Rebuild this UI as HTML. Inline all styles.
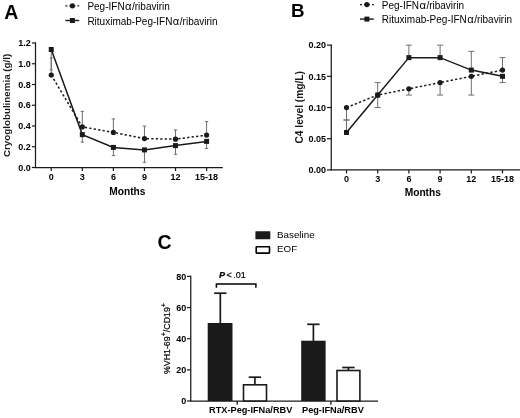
<!DOCTYPE html>
<html lang="en">
<head>
<meta charset="utf-8">
<title>Figure</title>
<style>
html,body{margin:0;padding:0;background:#fff;}
body{width:520px;height:418px;overflow:hidden;}
svg{display:block;will-change:transform;filter:blur(0.35px);font-family:'Liberation Sans', sans-serif;}
</style>
</head>
<body>
<svg width="520" height="418" viewBox="0 0 520 418">
<rect width="520" height="418" fill="#ffffff"/>
<line x1="35.50" y1="42.40" x2="35.50" y2="168.10" stroke="#1a1a1a" stroke-width="1.25" />
<line x1="34.90" y1="167.50" x2="222.80" y2="167.50" stroke="#1a1a1a" stroke-width="1.25" />
<line x1="31.90" y1="167.50" x2="35.50" y2="167.50" stroke="#1a1a1a" stroke-width="1.2" />
<text x="30.80" y="170.70" font-size="9" font-weight="bold" text-anchor="end" fill="#000" >0.0</text>
<line x1="31.90" y1="146.75" x2="35.50" y2="146.75" stroke="#1a1a1a" stroke-width="1.2" />
<text x="30.80" y="149.95" font-size="9" font-weight="bold" text-anchor="end" fill="#000" >0.2</text>
<line x1="31.90" y1="126.00" x2="35.50" y2="126.00" stroke="#1a1a1a" stroke-width="1.2" />
<text x="30.80" y="129.20" font-size="9" font-weight="bold" text-anchor="end" fill="#000" >0.4</text>
<line x1="31.90" y1="105.25" x2="35.50" y2="105.25" stroke="#1a1a1a" stroke-width="1.2" />
<text x="30.80" y="108.45" font-size="9" font-weight="bold" text-anchor="end" fill="#000" >0.6</text>
<line x1="31.90" y1="84.50" x2="35.50" y2="84.50" stroke="#1a1a1a" stroke-width="1.2" />
<text x="30.80" y="87.70" font-size="9" font-weight="bold" text-anchor="end" fill="#000" >0.8</text>
<line x1="31.90" y1="63.75" x2="35.50" y2="63.75" stroke="#1a1a1a" stroke-width="1.2" />
<text x="30.80" y="66.95" font-size="9" font-weight="bold" text-anchor="end" fill="#000" >1.0</text>
<line x1="31.90" y1="43.00" x2="35.50" y2="43.00" stroke="#1a1a1a" stroke-width="1.2" />
<text x="30.80" y="46.20" font-size="9" font-weight="bold" text-anchor="end" fill="#000" >1.2</text>
<line x1="51.25" y1="167.50" x2="51.25" y2="171.10" stroke="#1a1a1a" stroke-width="1.2" />
<text x="51.25" y="179.80" font-size="9" font-weight="bold" text-anchor="middle" fill="#000" >0</text>
<line x1="82.32" y1="167.50" x2="82.32" y2="171.10" stroke="#1a1a1a" stroke-width="1.2" />
<text x="82.32" y="179.80" font-size="9" font-weight="bold" text-anchor="middle" fill="#000" >3</text>
<line x1="113.39" y1="167.50" x2="113.39" y2="171.10" stroke="#1a1a1a" stroke-width="1.2" />
<text x="113.39" y="179.80" font-size="9" font-weight="bold" text-anchor="middle" fill="#000" >6</text>
<line x1="144.46" y1="167.50" x2="144.46" y2="171.10" stroke="#1a1a1a" stroke-width="1.2" />
<text x="144.46" y="179.80" font-size="9" font-weight="bold" text-anchor="middle" fill="#000" >9</text>
<line x1="175.53" y1="167.50" x2="175.53" y2="171.10" stroke="#1a1a1a" stroke-width="1.2" />
<text x="175.53" y="179.80" font-size="9" font-weight="bold" text-anchor="middle" fill="#000" >12</text>
<line x1="206.60" y1="167.50" x2="206.60" y2="171.10" stroke="#1a1a1a" stroke-width="1.2" />
<text x="206.60" y="179.80" font-size="9" font-weight="bold" text-anchor="middle" fill="#000" >15-18</text>
<text x="127.40" y="195.00" font-size="10.2" font-weight="bold" text-anchor="middle" fill="#000" >Months</text>
<text transform="translate(9.8,105.4) rotate(-90)" font-size="9.8" font-weight="bold" text-anchor="middle" fill="#1a1a1a">Cryoglobulinemia (g/l)</text>
<text x="4.20" y="19.40" font-size="19.5" font-weight="bold" text-anchor="start" fill="#000" >A</text>
<line x1="51.25" y1="75.00" x2="51.25" y2="57.90" stroke="#6e6e6e" stroke-width="1.0" />
<line x1="49.75" y1="57.90" x2="52.75" y2="57.90" stroke="#6e6e6e" stroke-width="1.0" />
<line x1="51.25" y1="49.50" x2="51.25" y2="69.90" stroke="#6e6e6e" stroke-width="1.0" />
<line x1="49.75" y1="69.90" x2="52.75" y2="69.90" stroke="#6e6e6e" stroke-width="1.0" />
<line x1="82.32" y1="126.90" x2="82.32" y2="111.40" stroke="#6e6e6e" stroke-width="1.0" />
<line x1="80.67" y1="111.40" x2="83.97" y2="111.40" stroke="#6e6e6e" stroke-width="1.0" />
<line x1="82.32" y1="134.60" x2="82.32" y2="142.10" stroke="#6e6e6e" stroke-width="1.0" />
<line x1="80.67" y1="142.10" x2="83.97" y2="142.10" stroke="#6e6e6e" stroke-width="1.0" />
<line x1="113.39" y1="132.40" x2="113.39" y2="118.90" stroke="#6e6e6e" stroke-width="1.0" />
<line x1="111.74" y1="118.90" x2="115.04" y2="118.90" stroke="#6e6e6e" stroke-width="1.0" />
<line x1="113.39" y1="147.40" x2="113.39" y2="155.60" stroke="#6e6e6e" stroke-width="1.0" />
<line x1="111.74" y1="155.60" x2="115.04" y2="155.60" stroke="#6e6e6e" stroke-width="1.0" />
<line x1="144.46" y1="138.60" x2="144.46" y2="126.10" stroke="#6e6e6e" stroke-width="1.0" />
<line x1="142.81" y1="126.10" x2="146.11" y2="126.10" stroke="#6e6e6e" stroke-width="1.0" />
<line x1="144.46" y1="149.90" x2="144.46" y2="162.30" stroke="#6e6e6e" stroke-width="1.0" />
<line x1="142.81" y1="162.30" x2="146.11" y2="162.30" stroke="#6e6e6e" stroke-width="1.0" />
<line x1="175.53" y1="139.20" x2="175.53" y2="129.90" stroke="#6e6e6e" stroke-width="1.0" />
<line x1="173.88" y1="129.90" x2="177.18" y2="129.90" stroke="#6e6e6e" stroke-width="1.0" />
<line x1="175.53" y1="145.60" x2="175.53" y2="154.30" stroke="#6e6e6e" stroke-width="1.0" />
<line x1="173.88" y1="154.30" x2="177.18" y2="154.30" stroke="#6e6e6e" stroke-width="1.0" />
<line x1="206.60" y1="135.10" x2="206.60" y2="121.60" stroke="#6e6e6e" stroke-width="1.0" />
<line x1="204.95" y1="121.60" x2="208.25" y2="121.60" stroke="#6e6e6e" stroke-width="1.0" />
<line x1="206.60" y1="141.40" x2="206.60" y2="148.50" stroke="#6e6e6e" stroke-width="1.0" />
<line x1="204.95" y1="148.50" x2="208.25" y2="148.50" stroke="#6e6e6e" stroke-width="1.0" />
<polyline points="51.25,75.00 82.32,126.90 113.39,132.40 144.46,138.60 175.53,139.20 206.60,135.10" fill="none" stroke="#1a1a1a" stroke-width="1.5" stroke-dasharray="2.3 2.2"/>
<polyline points="51.25,49.50 82.32,134.60 113.39,147.40 144.46,149.90 175.53,145.60 206.60,141.40" fill="none" stroke="#1a1a1a" stroke-width="1.5" />
<circle cx="51.25" cy="75.00" r="2.6" fill="#1a1a1a"/>
<circle cx="82.32" cy="126.90" r="2.6" fill="#1a1a1a"/>
<circle cx="113.39" cy="132.40" r="2.6" fill="#1a1a1a"/>
<circle cx="144.46" cy="138.60" r="2.6" fill="#1a1a1a"/>
<circle cx="175.53" cy="139.20" r="2.6" fill="#1a1a1a"/>
<circle cx="206.60" cy="135.10" r="2.6" fill="#1a1a1a"/>
<rect x="48.75" y="47.00" width="5.0" height="5.0" fill="#1a1a1a"/>
<rect x="79.82" y="132.10" width="5.0" height="5.0" fill="#1a1a1a"/>
<rect x="110.89" y="144.90" width="5.0" height="5.0" fill="#1a1a1a"/>
<rect x="141.96" y="147.40" width="5.0" height="5.0" fill="#1a1a1a"/>
<rect x="173.03" y="143.10" width="5.0" height="5.0" fill="#1a1a1a"/>
<rect x="204.10" y="138.90" width="5.0" height="5.0" fill="#1a1a1a"/>
<line x1="65.40" y1="5.85" x2="79.20" y2="5.85" stroke="#1a1a1a" stroke-width="1.4" stroke-dasharray="2 2"/>
<circle cx="72.40" cy="5.85" r="2.6" fill="#1a1a1a"/>
<line x1="65.40" y1="20.50" x2="79.20" y2="20.50" stroke="#1a1a1a" stroke-width="1.4" />
<rect x="69.90" y="18.00" width="5.0" height="5.0" fill="#1a1a1a"/>
<text x="87.40" y="10.00" font-size="10" font-weight="normal" text-anchor="start" fill="#000" >Peg-IFN<tspan dx="0.4" font-size="11.2">α</tspan><tspan dx="0.5">/ribavirin</tspan></text>
<text x="87.40" y="24.50" font-size="10" font-weight="normal" text-anchor="start" fill="#000" >Rituximab-Peg-IFN<tspan dx="0.4" font-size="11.2">α</tspan><tspan dx="0.5">/ribavirin</tspan></text>
<line x1="331.25" y1="44.55" x2="331.25" y2="170.50" stroke="#1a1a1a" stroke-width="1.25" />
<line x1="330.65" y1="169.90" x2="520.00" y2="169.90" stroke="#1a1a1a" stroke-width="1.25" />
<line x1="326.95" y1="169.90" x2="331.25" y2="169.90" stroke="#1a1a1a" stroke-width="1.2" />
<text x="326.05" y="173.10" font-size="9" font-weight="bold" text-anchor="end" fill="#000" >0.00</text>
<line x1="326.95" y1="138.71" x2="331.25" y2="138.71" stroke="#1a1a1a" stroke-width="1.2" />
<text x="326.05" y="141.91" font-size="9" font-weight="bold" text-anchor="end" fill="#000" >0.05</text>
<line x1="326.95" y1="107.53" x2="331.25" y2="107.53" stroke="#1a1a1a" stroke-width="1.2" />
<text x="326.05" y="110.73" font-size="9" font-weight="bold" text-anchor="end" fill="#000" >0.10</text>
<line x1="326.95" y1="76.34" x2="331.25" y2="76.34" stroke="#1a1a1a" stroke-width="1.2" />
<text x="326.05" y="79.54" font-size="9" font-weight="bold" text-anchor="end" fill="#000" >0.15</text>
<line x1="326.95" y1="45.15" x2="331.25" y2="45.15" stroke="#1a1a1a" stroke-width="1.2" />
<text x="326.05" y="48.35" font-size="9" font-weight="bold" text-anchor="end" fill="#000" >0.20</text>
<line x1="346.50" y1="169.90" x2="346.50" y2="173.40" stroke="#1a1a1a" stroke-width="1.2" />
<text x="346.50" y="182.10" font-size="9" font-weight="bold" text-anchor="middle" fill="#000" >0</text>
<line x1="377.70" y1="169.90" x2="377.70" y2="173.40" stroke="#1a1a1a" stroke-width="1.2" />
<text x="377.70" y="182.10" font-size="9" font-weight="bold" text-anchor="middle" fill="#000" >3</text>
<line x1="408.90" y1="169.90" x2="408.90" y2="173.40" stroke="#1a1a1a" stroke-width="1.2" />
<text x="408.90" y="182.10" font-size="9" font-weight="bold" text-anchor="middle" fill="#000" >6</text>
<line x1="440.10" y1="169.90" x2="440.10" y2="173.40" stroke="#1a1a1a" stroke-width="1.2" />
<text x="440.10" y="182.10" font-size="9" font-weight="bold" text-anchor="middle" fill="#000" >9</text>
<line x1="471.30" y1="169.90" x2="471.30" y2="173.40" stroke="#1a1a1a" stroke-width="1.2" />
<text x="471.30" y="182.10" font-size="9" font-weight="bold" text-anchor="middle" fill="#000" >12</text>
<line x1="502.50" y1="169.90" x2="502.50" y2="173.40" stroke="#1a1a1a" stroke-width="1.2" />
<text x="502.50" y="182.10" font-size="9" font-weight="bold" text-anchor="middle" fill="#000" >15-18</text>
<text x="422.80" y="195.60" font-size="10.2" font-weight="bold" text-anchor="middle" fill="#000" >Months</text>
<text transform="translate(302.7,107.3) rotate(-90)" font-size="10.2" font-weight="bold" text-anchor="middle" fill="#1a1a1a">C4 level (mg/L)</text>
<text x="290.90" y="17.00" font-size="18.8" font-weight="bold" text-anchor="start" fill="#000" >B</text>
<line x1="346.50" y1="107.53" x2="346.50" y2="120.00" stroke="#6e6e6e" stroke-width="1.0" />
<line x1="343.50" y1="120.00" x2="349.50" y2="120.00" stroke="#6e6e6e" stroke-width="1.0" />
<line x1="346.50" y1="132.48" x2="346.50" y2="120.00" stroke="#6e6e6e" stroke-width="1.0" />
<line x1="343.50" y1="120.00" x2="349.50" y2="120.00" stroke="#6e6e6e" stroke-width="1.0" />
<line x1="377.70" y1="95.05" x2="377.70" y2="82.57" stroke="#6e6e6e" stroke-width="1.0" />
<line x1="374.70" y1="82.57" x2="380.70" y2="82.57" stroke="#6e6e6e" stroke-width="1.0" />
<line x1="377.70" y1="95.05" x2="377.70" y2="107.53" stroke="#6e6e6e" stroke-width="1.0" />
<line x1="374.70" y1="107.53" x2="380.70" y2="107.53" stroke="#6e6e6e" stroke-width="1.0" />
<line x1="408.90" y1="57.63" x2="408.90" y2="45.15" stroke="#6e6e6e" stroke-width="1.0" />
<line x1="405.90" y1="45.15" x2="411.90" y2="45.15" stroke="#6e6e6e" stroke-width="1.0" />
<line x1="408.90" y1="88.81" x2="408.90" y2="95.05" stroke="#6e6e6e" stroke-width="1.0" />
<line x1="405.90" y1="95.05" x2="411.90" y2="95.05" stroke="#6e6e6e" stroke-width="1.0" />
<line x1="440.10" y1="57.63" x2="440.10" y2="45.15" stroke="#6e6e6e" stroke-width="1.0" />
<line x1="437.10" y1="45.15" x2="443.10" y2="45.15" stroke="#6e6e6e" stroke-width="1.0" />
<line x1="440.10" y1="82.57" x2="440.10" y2="95.05" stroke="#6e6e6e" stroke-width="1.0" />
<line x1="437.10" y1="95.05" x2="443.10" y2="95.05" stroke="#6e6e6e" stroke-width="1.0" />
<line x1="471.30" y1="70.10" x2="471.30" y2="51.39" stroke="#6e6e6e" stroke-width="1.0" />
<line x1="468.30" y1="51.39" x2="474.30" y2="51.39" stroke="#6e6e6e" stroke-width="1.0" />
<line x1="471.30" y1="76.34" x2="471.30" y2="95.05" stroke="#6e6e6e" stroke-width="1.0" />
<line x1="468.30" y1="95.05" x2="474.30" y2="95.05" stroke="#6e6e6e" stroke-width="1.0" />
<line x1="502.50" y1="70.10" x2="502.50" y2="57.63" stroke="#6e6e6e" stroke-width="1.0" />
<line x1="499.50" y1="57.63" x2="505.50" y2="57.63" stroke="#6e6e6e" stroke-width="1.0" />
<line x1="502.50" y1="76.34" x2="502.50" y2="82.57" stroke="#6e6e6e" stroke-width="1.0" />
<line x1="499.50" y1="82.57" x2="505.50" y2="82.57" stroke="#6e6e6e" stroke-width="1.0" />
<polyline points="346.50,107.53 377.70,95.05 408.90,88.81 440.10,82.57 471.30,76.34 502.50,70.10" fill="none" stroke="#1a1a1a" stroke-width="1.5" stroke-dasharray="2.3 2.2"/>
<polyline points="346.50,132.48 377.70,95.05 408.90,57.63 440.10,57.63 471.30,70.10 502.50,76.34" fill="none" stroke="#1a1a1a" stroke-width="1.5" />
<circle cx="346.50" cy="107.53" r="2.6" fill="#1a1a1a"/>
<circle cx="377.70" cy="95.05" r="2.6" fill="#1a1a1a"/>
<circle cx="408.90" cy="88.81" r="2.6" fill="#1a1a1a"/>
<circle cx="440.10" cy="82.57" r="2.6" fill="#1a1a1a"/>
<circle cx="471.30" cy="76.34" r="2.6" fill="#1a1a1a"/>
<circle cx="502.50" cy="70.10" r="2.6" fill="#1a1a1a"/>
<rect x="344.00" y="129.98" width="5.0" height="5.0" fill="#1a1a1a"/>
<rect x="375.20" y="92.55" width="5.0" height="5.0" fill="#1a1a1a"/>
<rect x="406.40" y="55.13" width="5.0" height="5.0" fill="#1a1a1a"/>
<rect x="437.60" y="55.13" width="5.0" height="5.0" fill="#1a1a1a"/>
<rect x="468.80" y="67.60" width="5.0" height="5.0" fill="#1a1a1a"/>
<rect x="500.00" y="73.84" width="5.0" height="5.0" fill="#1a1a1a"/>
<line x1="360.00" y1="4.60" x2="373.80" y2="4.60" stroke="#1a1a1a" stroke-width="1.4" stroke-dasharray="2 2"/>
<circle cx="366.90" cy="4.60" r="2.6" fill="#1a1a1a"/>
<line x1="360.00" y1="19.10" x2="373.80" y2="19.10" stroke="#1a1a1a" stroke-width="1.4" />
<rect x="364.40" y="16.60" width="5.0" height="5.0" fill="#1a1a1a"/>
<text x="381.80" y="8.70" font-size="10" font-weight="normal" text-anchor="start" fill="#000" >Peg-IFN<tspan dx="0.4" font-size="11.2">α</tspan><tspan dx="0.5">/ribavirin</tspan></text>
<text x="381.80" y="23.10" font-size="10" font-weight="normal" text-anchor="start" fill="#000" >Rituximab-Peg-IFN<tspan dx="0.4" font-size="11.2">α</tspan><tspan dx="0.5">/ribavirin</tspan></text>
<line x1="190.75" y1="275.80" x2="190.75" y2="401.60" stroke="#1a1a1a" stroke-width="1.25" />
<line x1="190.15" y1="401.00" x2="378.00" y2="401.00" stroke="#1a1a1a" stroke-width="1.25" />
<line x1="186.95" y1="401.00" x2="190.75" y2="401.00" stroke="#1a1a1a" stroke-width="1.2" />
<text x="186.35" y="404.20" font-size="9" font-weight="bold" text-anchor="end" fill="#000" >0</text>
<line x1="186.95" y1="369.85" x2="190.75" y2="369.85" stroke="#1a1a1a" stroke-width="1.2" />
<text x="186.35" y="373.05" font-size="9" font-weight="bold" text-anchor="end" fill="#000" >20</text>
<line x1="186.95" y1="338.70" x2="190.75" y2="338.70" stroke="#1a1a1a" stroke-width="1.2" />
<text x="186.35" y="341.90" font-size="9" font-weight="bold" text-anchor="end" fill="#000" >40</text>
<line x1="186.95" y1="307.55" x2="190.75" y2="307.55" stroke="#1a1a1a" stroke-width="1.2" />
<text x="186.35" y="310.75" font-size="9" font-weight="bold" text-anchor="end" fill="#000" >60</text>
<line x1="186.95" y1="276.40" x2="190.75" y2="276.40" stroke="#1a1a1a" stroke-width="1.2" />
<text x="186.35" y="279.60" font-size="9" font-weight="bold" text-anchor="end" fill="#000" >80</text>
<line x1="237.20" y1="401.00" x2="237.20" y2="404.80" stroke="#1a1a1a" stroke-width="1.3" />
<line x1="330.90" y1="401.00" x2="330.90" y2="404.80" stroke="#1a1a1a" stroke-width="1.3" />
<line x1="220.30" y1="293.20" x2="220.30" y2="323.10" stroke="#1a1a1a" stroke-width="1.7" />
<line x1="214.10" y1="293.20" x2="226.50" y2="293.20" stroke="#1a1a1a" stroke-width="1.7" />
<rect x="207.70" y="323.00" width="24.80" height="78.00" fill="#1a1a1a"/>
<line x1="254.90" y1="377.20" x2="254.90" y2="384.20" stroke="#1a1a1a" stroke-width="1.7" />
<line x1="248.70" y1="377.20" x2="261.10" y2="377.20" stroke="#1a1a1a" stroke-width="1.7" />
<rect x="243.50" y="384.80" width="23.00" height="16.20" fill="#fff" stroke="#1a1a1a" stroke-width="1.6"/>
<line x1="313.40" y1="324.30" x2="313.40" y2="341.25" stroke="#1a1a1a" stroke-width="1.7" />
<line x1="307.20" y1="324.30" x2="319.60" y2="324.30" stroke="#1a1a1a" stroke-width="1.7" />
<rect x="301.20" y="340.70" width="24.40" height="60.30" fill="#1a1a1a"/>
<line x1="348.40" y1="367.50" x2="348.40" y2="370.50" stroke="#1a1a1a" stroke-width="1.7" />
<line x1="342.20" y1="367.50" x2="354.60" y2="367.50" stroke="#1a1a1a" stroke-width="1.7" />
<rect x="337.00" y="370.50" width="22.90" height="30.50" fill="#fff" stroke="#1a1a1a" stroke-width="1.6"/>
<polyline points="216.4,287.7 216.4,284.1 255.9,284.1 255.9,287.7" fill="none" stroke="#000" stroke-width="1.5"/>
<text x="219" y="277.6" font-size="9" fill="#000" stroke="#000" stroke-width="0.2"><tspan font-weight="bold" font-style="italic">P</tspan><tspan dx="-1.0"> &lt;</tspan><tspan dx="1.4">.01</tspan></text>
<text x="250.70" y="413.20" font-size="9.2" font-weight="bold" text-anchor="middle" fill="#000" >RTX-Peg-IFNa/RBV</text>
<text x="332.90" y="413.20" font-size="9.2" font-weight="bold" text-anchor="middle" fill="#000" >Peg-IFNa/RBV</text>
<text x="157.60" y="248.50" font-size="19.5" font-weight="bold" text-anchor="start" fill="#000" >C</text>
<text transform="translate(170.3,338.5) rotate(-90)" font-size="8.8" text-anchor="middle" fill="#000" stroke="#000" stroke-width="0.2">%VH1-69<tspan font-size="7.2" dy="-4.0">+</tspan><tspan dy="4.0">/CD19</tspan><tspan font-size="7.2" dy="-4.0">+</tspan></text>
<rect x="255.4" y="231.2" width="14.9" height="8" rx="0.5" fill="#1a1a1a"/>
<rect x="256.2" y="246.7" width="13.3" height="6.4" rx="0.5" fill="#fff" stroke="#000" stroke-width="1.6"/>
<text x="277.00" y="238.30" font-size="9.8" font-weight="normal" text-anchor="start" fill="#000" >Baseline</text>
<text x="277.00" y="252.40" font-size="9.8" font-weight="normal" text-anchor="start" fill="#000" >EOF</text>
</svg>
</body>
</html>
